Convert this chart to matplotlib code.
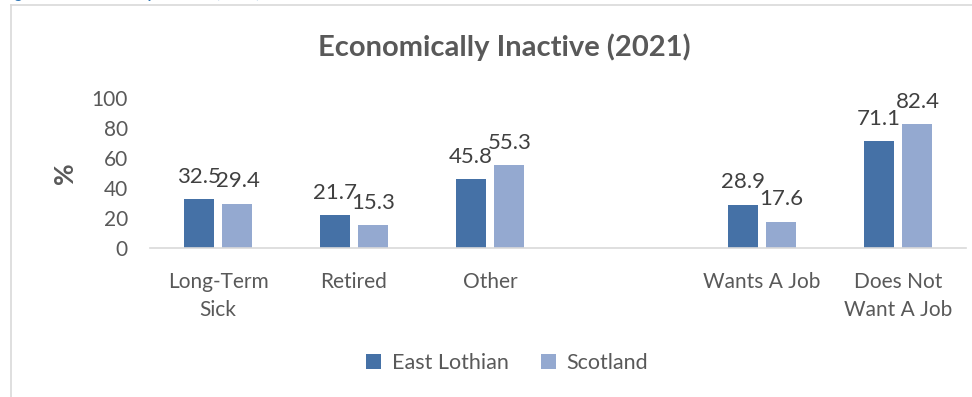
import numpy as np
import matplotlib.pyplot as plt
from matplotlib.lines import Line2D

# Economic inactivity by reason, East Lothian vs Scotland
categories = ['Long-Term\nSick', 'Retired', 'Other', '', 'Wants A Job', 'Does Not\nWant A Job']
east_lothian = [32.5, 21.7, 45.8, np.nan, 28.9, 71.1]
scotland = [29.4, 15.3, 55.3, np.nan, 17.6, 82.4]
series_names = ['East Lothian', 'Scotland']
yticks = [0, 20, 40, 60, 80, 100]

plt.rcParams['font.family'] = ['Lato', 'DejaVu Sans']
text_col = '#595959'
dark = '#4571A6'
light = '#94A9D0'

W, H = 972, 397
fig = plt.figure(figsize=(W / 100, H / 100), dpi=100)
ax = fig.add_axes([150 / W, (H - 248) / H, 816 / W, 150 / H])

x = np.arange(len(categories))
width = 0.22
off = 0.143
bars1 = ax.bar(x - off, east_lothian, width, color=dark, label=series_names[0])
bars2 = ax.bar(x + off, scotland, width, color=light, label=series_names[1])

for bars, vals in [(bars1, east_lothian), (bars2, scotland)]:
    for b, v in zip(bars, vals):
        if np.isnan(v):
            continue
        ax.annotate(f'{v:.1f}', (b.get_x() + b.get_width() / 2, v),
                    xytext=(0, 9), textcoords='offset points',
                    ha='center', va='bottom', fontsize=16, color='#404040')

ax.set_xlim(-0.5, len(categories) - 0.5)
ax.set_ylim(0, 100)
ax.set_yticks(yticks)
ax.set_xticks(x)
ax.set_xticklabels(categories, linespacing=1.5)
ax.tick_params(axis='both', length=0, labelsize=15, labelcolor=text_col)
ax.tick_params(axis='y', pad=16)
ax.tick_params(axis='x', pad=17)

for s in ['top', 'right', 'left']:
    ax.spines[s].set_visible(False)
ax.spines['bottom'].set_color('#D9D9D9')
ax.spines['bottom'].set_linewidth(1.2)

ax.set_ylabel('%', fontsize=19, fontweight='bold', color=text_col)
ax.yaxis.set_label_coords(-0.09, 0.5)

fig.text(504 / W, 1 - 47 / H, 'Economically Inactive (2021)', ha='center', va='center',
         fontsize=21, fontweight='bold', color=text_col)

fig.legend(loc='center', bbox_to_anchor=(507 / W, 1 - 363 / H), ncol=2, frameon=False,
           handlelength=0.7, handleheight=0.7, handletextpad=0.5, columnspacing=1.5,
           prop={'size': 15.5}, labelcolor=text_col)

# chart frame (top and left edges) and caption running off the top
fig.add_artist(Line2D([11 / W, 1], [1 - 5 / H, 1 - 5 / H], color='#D9D9D9', lw=1.2))
fig.add_artist(Line2D([11 / W, 11 / W], [0, 1 - 5 / H], color='#D9D9D9', lw=1.2))
fig.text(2 / W, 1 + 2 / H, 'Figure 9: Economically Inactive (2021)', ha='left', va='baseline',
         fontsize=11, fontweight='bold', color='#2E74B5')

fig.savefig('out.png', dpi=100)
